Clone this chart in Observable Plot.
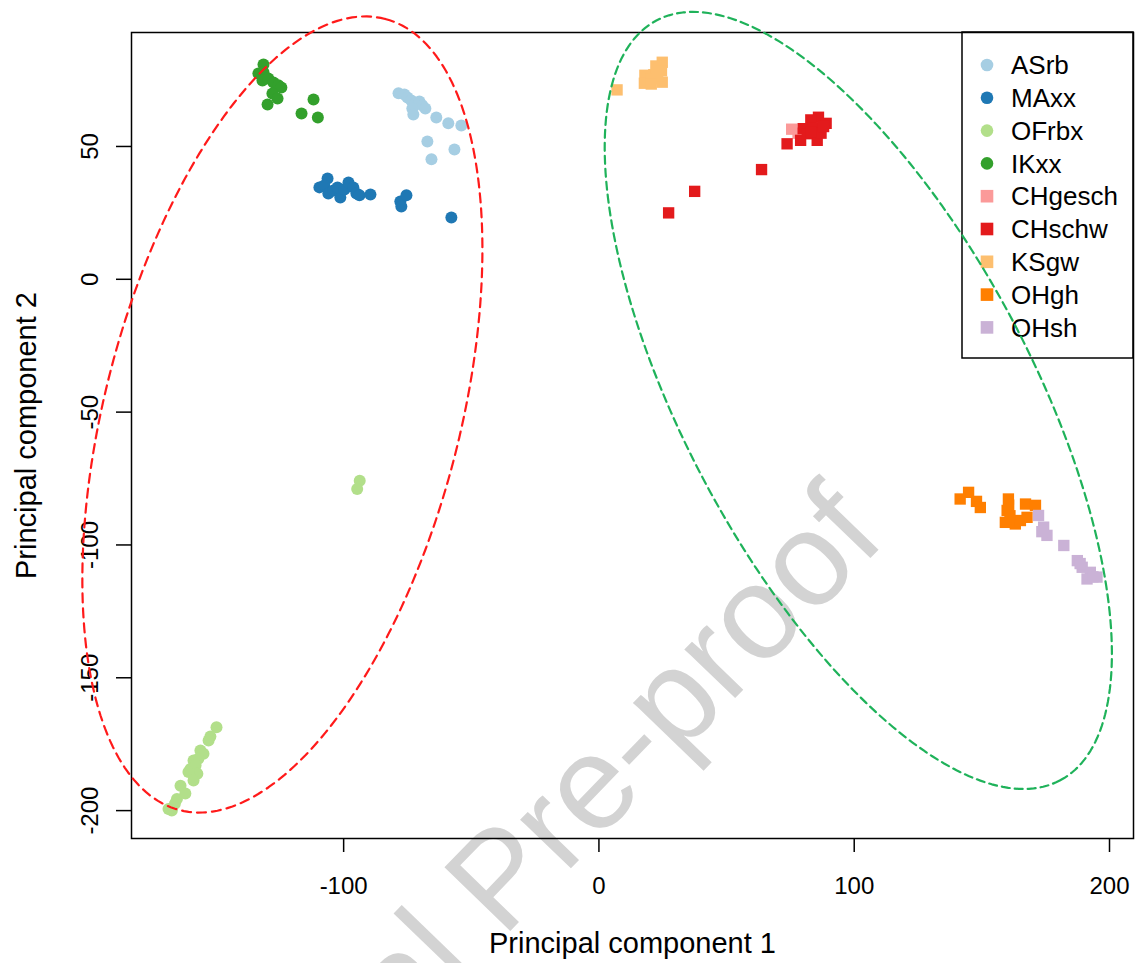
<!DOCTYPE html>
<html>
<head>
<meta charset="utf-8">
<script src="https://cdn.jsdelivr.net/npm/d3@7"></script>
<script src="https://cdn.jsdelivr.net/npm/@observablehq/plot@0.6"></script>
<style>
  body { margin: 0; background: #fff; }
  #chart { width: 1135px; height: 963px; overflow: hidden; }
</style>
</head>
<body>
<div id="chart"></div>
<script>
// ---- categories / styles ----
const groups = ["ASrb", "MAxx", "OFrbx", "IKxx", "CHgesch", "CHschw", "KSgw", "OHgh", "OHsh"];
const groupColors = ["#A6CEE3", "#1F78B4", "#B2DF8A", "#33A02C", "#FB9A99", "#E31A1C", "#FDBF6F", "#FF7F00", "#CAB2D6"];
const groupShapes = ["circle", "circle", "circle", "circle", "square", "square", "square", "square", "square"];

// ---- tick labels ----
const xTicks = [-100, 0, 100, 200];
const yTicks = [50, 0, -50, -100, -150, -200];
const xTitle = "Principal component 1";
const yTitle = "Principal component 2";
const watermark = "Journal Pre-proof";

// ---- series values [PC1, PC2] ----
const ASrb = [[-78.5,70.0],[-76.2,69.6],[-75.0,68.4],[-73.5,67.3],[-71.9,66.2],[-70.3,66.9],[-69.2,65.5],[-68.0,64.3],[-73.1,64.3],[-72.7,62.0],[-63.7,60.9],[-59.0,58.7],[-53.9,57.9],[-67.2,51.9],[-56.6,48.9],[-65.6,45.2]];
const MAxx = [[-106.3,37.9],[-109.5,34.6],[-107.6,35.3],[-106.0,32.3],[-104.0,33.4],[-101.3,30.8],[-102.4,34.6],[-99.7,33.8],[-98.1,36.4],[-96.2,34.6],[-95.0,32.3],[-93.8,31.6],[-89.5,31.9],[-77.8,29.3],[-75.4,31.6],[-77.4,27.4],[-57.8,23.3]];
const OFrbx = [[-93.7,-75.8],[-94.7,-78.9],[-149.8,-168.6],[-152.2,-172.1],[-152.9,-173.6],[-156.1,-177.4],[-154.9,-178.6],[-158.8,-181.1],[-156.9,-180.5],[-160.0,-184.3],[-158.0,-183.0],[-157.3,-186.1],[-160.8,-185.5],[-158.8,-188.7],[-163.9,-190.6],[-162.0,-193.6],[-165.3,-195.6],[-166.1,-197.4],[-168.6,-199.4],[-167.3,-200.0]];
const IKxx = [[-131.4,80.9],[-133.4,77.5],[-131.4,77.9],[-131.8,74.8],[-129.5,75.6],[-127.5,74.1],[-125.6,73.0],[-124.4,72.2],[-127.9,69.9],[-125.9,68.1],[-129.8,65.8],[-111.8,67.7],[-116.5,62.4],[-110.1,60.9]];
const CHgesch = [[75.5,56.5],[78.0,55.0]];
const CHschw = [[86.0,61.0],[83.0,60.0],[89.0,58.7],[80.0,56.7],[79.0,52.3],[85.5,52.3],[81.6,54.8],[84.0,57.0],[87.0,55.0],[88.0,57.5],[83.0,55.5],[73.7,51.0],[63.7,41.3],[37.5,33.1],[27.3,25.0]];
const KSgw = [[24.8,81.7],[22.3,80.3],[24.5,78.5],[21.5,77.0],[18.0,76.8],[17.8,73.8],[24.8,74.2],[20.5,75.5],[23.0,76.5],[20.5,73.5],[7.1,71.3]];
const OHgh = [[144.8,-80.2],[141.5,-82.7],[147.9,-83.6],[149.4,-85.9],[160.4,-82.7],[159.9,-87.0],[159.2,-91.5],[163.1,-92.1],[167.1,-84.6],[171.0,-85.1],[167.7,-89.6],[165.1,-90.8],[161.0,-89.0],[160.5,-85.0]];
const OHsh = [[172.2,-88.9],[174.2,-93.3],[175.5,-96.4],[173.5,-95.0],[182.1,-100.2],[187.4,-105.9],[189.3,-108.4],[192.5,-110.3],[195.1,-112.1],[191.2,-112.8],[188.5,-107.0],[193.5,-112.0]];

const series = [ASrb, MAxx, OFrbx, IKxx, CHgesch, CHschw, KSgw, OHgh, OHsh];

// ---- group ellipses: centre and two semi-axis vectors (data units) ----
const ellipseCenters = [[-124.0, -50.9], [101.6, -45.6]];
const ellipseMajor = [[40.3, 148.9], [79.1, -143.0]];
const ellipseMinor = [[67.2, -16.8], [60.1, 30.7]];
const ellipseColors = ["#FF1A1A", "#1FB25A"];

// ---- build tables ----
const points = [];
series.forEach((arr, gi) => arr.forEach(([x, y]) => points.push({g: groups[gi], shape: groupShapes[gi], x, y})));
const circles = points.filter(d => d.shape === "circle");
const squares = points.filter(d => d.shape === "square");

const ellipsePts = [];
ellipseCenters.forEach((c, k) => {
  const n = 240;
  for (let i = 0; i <= n; i++) {
    const t = (i / n) * 2 * Math.PI;
    ellipsePts.push({
      k,
      x: c[0] + ellipseMajor[k][0] * Math.cos(t) + ellipseMinor[k][0] * Math.sin(t),
      y: c[1] + ellipseMajor[k][1] * Math.cos(t) + ellipseMinor[k][1] * Math.sin(t)
    });
  }
});

const font = "'Liberation Sans', Arial, Helvetica, sans-serif";

const chart = Plot.plot({
  width: 1135,
  height: 963,
  marginLeft: 131,
  marginRight: 2,
  marginTop: 32,
  marginBottom: 125,
  style: {fontFamily: font, background: "white", overflow: "visible", color: "black"},
  x: {domain: [-183.1, 209.4], axis: null},
  y: {domain: [-210.5, 92.9], axis: null},
  color: {domain: groups, range: groupColors},
  marks: [
    Plot.dot(circles, {x: "x", y: "y", fill: "g", r: 6, symbol: "circle"}),
    Plot.dot(squares, {x: "x", y: "y", fill: "g", r: 6.4, symbol: "square"}),
    Plot.frame({stroke: "black", strokeWidth: 1.5}),
    Plot.axisX({ticks: xTicks, tickSize: 14, tickFormat: () => "", label: null, strokeWidth: 1.5}),
    Plot.axisY({ticks: yTicks, tickSize: 15, tickFormat: () => "", label: null, strokeWidth: 1.5}),
    Plot.text(xTicks, {x: d => d, text: d => String(d), frameAnchor: "bottom", dy: 55, lineAnchor: "bottom", textAnchor: "middle", fontSize: 24, fill: "black"}),
    Plot.text(yTicks, {y: d => d, text: d => String(d), frameAnchor: "left", dx: -34, rotate: -90, lineAnchor: "bottom", textAnchor: "middle", fontSize: 24, fill: "black"}),
    Plot.text([xTitle], {frameAnchor: "bottom", dy: 114, lineAnchor: "bottom", textAnchor: "middle", fontSize: 29, fill: "black"}),
    Plot.text([yTitle], {frameAnchor: "left", dx: -96, rotate: -90, lineAnchor: "bottom", textAnchor: "middle", fontSize: 29, fill: "black"}),
    Plot.line(ellipsePts.filter(d => d.k === 0), {x: "x", y: "y", stroke: ellipseColors[0], strokeWidth: 2.2, strokeDasharray: "9,6"}),
    Plot.line(ellipsePts.filter(d => d.k === 1), {x: "x", y: "y", stroke: ellipseColors[1], strokeWidth: 2.2, strokeDasharray: "8,5"})
  ]
});

document.getElementById("chart").appendChild(chart);

// ---- watermark (behind everything) ----
const svg = d3.select(chart);
const firstG = chart.querySelector("g");
svg.insert("text", () => firstG)
  .attr("transform", "translate(888,540) rotate(-46)")
  .attr("text-anchor", "end")
  .attr("font-family", font)
  .attr("font-size", 133)
  .attr("fill", "#d3d3d3")
  .text(watermark);

// ---- legend (drawn before the ellipses) ----
const firstLine = chart.querySelector('g[aria-label="line"]');
const lg = svg.insert("g", () => firstLine).attr("class", "legend").attr("text-anchor", "start");
lg.append("rect").attr("x", 962).attr("y", 32).attr("width", 171).attr("height", 326)
  .attr("fill", "none").attr("stroke", "black").attr("stroke-width", 1.5);
groups.forEach((g, i) => {
  const cy = 65 + i * 32.8;
  if (groupShapes[i] === "circle") {
    lg.append("circle").attr("cx", 987).attr("cy", cy).attr("r", 6.3).attr("fill", groupColors[i]);
  } else {
    lg.append("rect").attr("x", 987 - 6.3).attr("y", cy - 6.3).attr("width", 12.6).attr("height", 12.6).attr("fill", groupColors[i]);
  }
  lg.append("text").attr("x", 1011).attr("y", cy).attr("dy", "0.35em").attr("text-anchor", "start")
    .attr("font-family", font).attr("font-size", 26).attr("fill", "black").text(g);
});
</script>
</body>
</html>
